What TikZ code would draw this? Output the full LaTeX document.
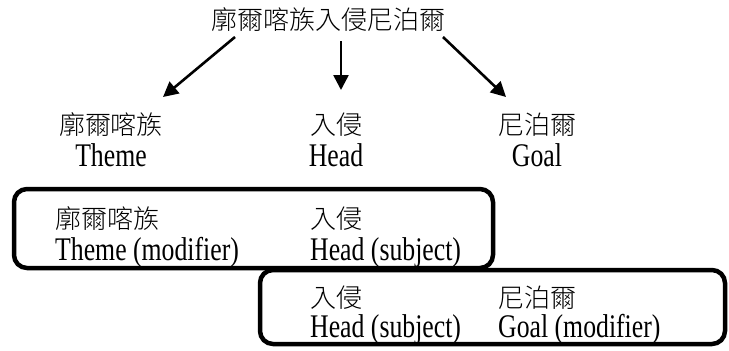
\documentclass[tikz,border=0pt]{standalone}
\usepackage{fontspec}
\setmainfont{Liberation Serif}[FakeStretch=0.78]
\newfontfamily\cjk{Noto Sans CJK TC Light}
\usetikzlibrary{arrows.meta}
\begin{document}
\begin{tikzpicture}[x=1pt,y=-1pt,
  zh/.style={font=\cjk\fontsize{26}{30}\selectfont, inner sep=0pt},
  en/.style={font=\fontsize{33}{36}\selectfont, inner sep=0pt},
  arr/.style={line width=2.6pt, -{Triangle[length=15pt,width=15pt]}},
  groupbox/.style={line width=4.5pt, rounded corners=13pt}]
\useasboundingbox (0,0) rectangle (729,351);
% title
\node[zh] (title) at (328,20) {廓爾喀族入侵尼泊爾};
\coordinate (sL) at (235,37);
\coordinate (sM) at (341,41);
\coordinate (sR) at (443,37);
\coordinate (eL) at (163,97);
\coordinate (eM) at (341,90);
\coordinate (eR) at (506,97);
\draw[arr] (sL) -- (eL);
\draw[arr] (sM) -- (eM);
\draw[arr] (sR) -- (eR);
% row 2
\node[zh] (t1) at (111,125) {廓爾喀族};
\node[en, anchor=base] (t1e) at (111,166) {Theme};
\node[zh] (h1) at (336,125) {入侵};
\node[en, anchor=base] (h1e) at (336,166) {Head};
\node[zh] (g1) at (537,125) {尼泊爾};
\node[en, anchor=base] (g1e) at (537,166) {Goal};
% box 1
\draw[groupbox] (14,189) rectangle (493,268);
\node[zh, anchor=west] (t2) at (55,219) {廓爾喀族};
\node[en, anchor=base west] (t2e) at (55,260) {Theme (modifier)};
\node[zh, anchor=west] (h2) at (310,219) {入侵};
\node[en, anchor=base west] (h2e) at (310,260) {Head (subject)};
% box 2
\draw[groupbox] (260,270) rectangle (725,344);
\node[zh, anchor=west] (h3) at (310,298) {入侵};
\node[en, anchor=base west] (h3e) at (310,337) {Head (subject)};
\node[zh, anchor=west] (g3) at (498,298) {尼泊爾};
\node[en, anchor=base west] (g3e) at (498,337) {Goal (modifier)};
\end{tikzpicture}
\end{document}
